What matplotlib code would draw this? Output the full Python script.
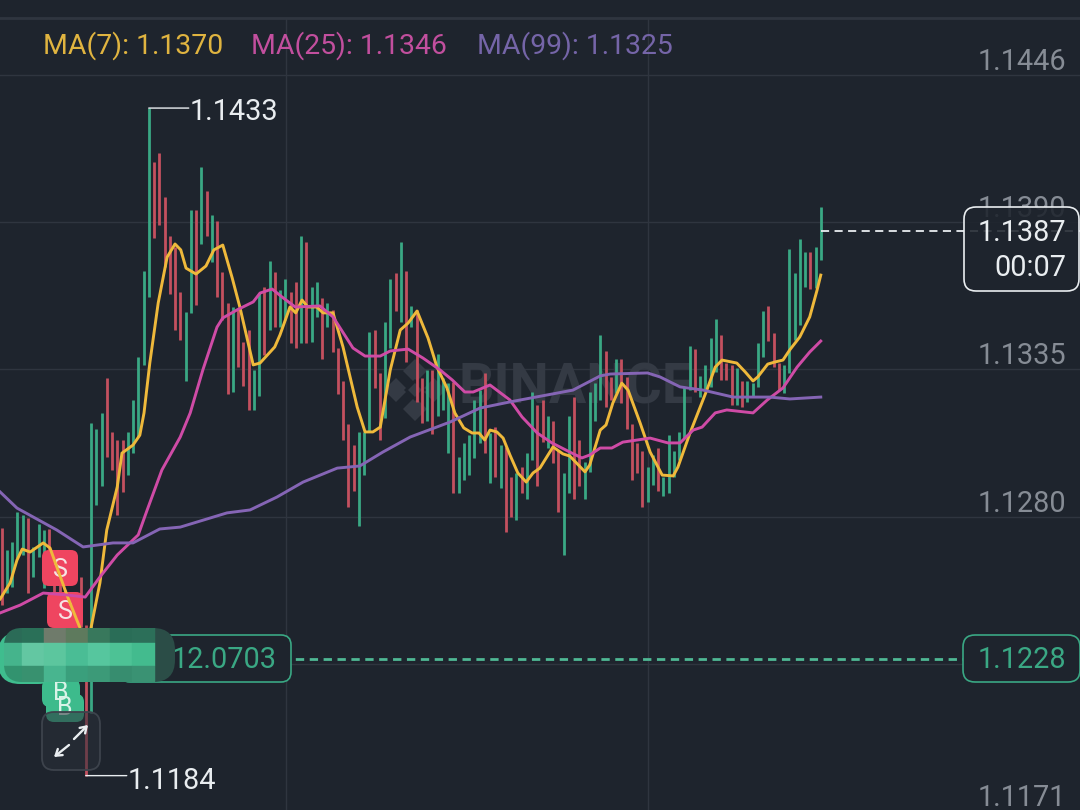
import matplotlib
matplotlib.use('Agg')
from matplotlib import pyplot as plt
from matplotlib.patches import FancyBboxPatch, Polygon, Rectangle
from matplotlib.transforms import Affine2D, blended_transform_factory

plt.rcParams['font.family'] = ['Roboto', 'DejaVu Sans']

# candle extents, left to right, 157 candles
highs = [
    1.12759, 1.12677, 1.12706, 1.12818, 1.12807, 1.12796, 1.12688, 1.12774, 1.12751, 1.12755,
    1.12677, 1.12621, 1.12527, 1.12509, 1.12490, 1.12576, 1.12397, 1.13150, 1.13128, 1.13188,
    1.13318, 1.13117, 1.13087, 1.13087, 1.13117, 1.13236, 1.13396, 1.13717, 1.14325, 1.14124,
    1.14157, 1.13993, 1.13848, 1.13807, 1.13639, 1.13564, 1.13945, 1.13945, 1.14105, 1.14016,
    1.13926, 1.13904, 1.13714, 1.13598, 1.13583, 1.13579, 1.13452, 1.13497, 1.13348, 1.13635,
    1.13658, 1.13755, 1.13714, 1.13646, 1.13687, 1.13639, 1.13676, 1.13848, 1.13825, 1.13658,
    1.13676, 1.13617, 1.13598, 1.13572, 1.13430, 1.13307, 1.13147, 1.13068, 1.13117, 1.13117,
    1.13490, 1.13497, 1.13337, 1.13527, 1.13687, 1.13710, 1.13825, 1.13717, 1.13587, 1.13572,
    1.13318, 1.13348, 1.13348, 1.13408, 1.13318, 1.13299, 1.13303, 1.13023, 1.13076, 1.13105,
    1.13236, 1.13273, 1.13337, 1.13113, 1.13135, 1.13068, 1.13061, 1.12949, 1.12964, 1.12986,
    1.13038, 1.13266, 1.13217, 1.13236, 1.13176, 1.13158, 1.13050, 1.12964, 1.13176, 1.13247,
    1.13087, 1.13005, 1.13266, 1.13299, 1.13479, 1.13419, 1.13322, 1.13389, 1.13389, 1.13322,
    1.13147, 1.13076, 1.13046, 1.12986, 1.13031, 1.13057, 1.12949, 1.13105, 1.13046, 1.13117,
    1.13285, 1.13437, 1.13426, 1.13326, 1.13367, 1.13467, 1.13538, 1.13479, 1.13374, 1.13367,
    1.13355, 1.13307, 1.13307, 1.13299, 1.13449, 1.13568, 1.13587, 1.13486, 1.13374, 1.13367,
    1.13799, 1.13710, 1.13837, 1.13788, 1.13788, 1.13807, 1.13956,
]
lows = [
    1.12471, 1.12516, 1.12539, 1.12647, 1.12658, 1.12516, 1.12576, 1.12650, 1.12535, 1.12554,
    1.12471, 1.12434, 1.12397, 1.12341, 1.12266, 1.12389, 1.11835, 1.12069, 1.12844, 1.12915,
    1.13023, 1.12975, 1.12807, 1.12893, 1.12956, 1.13038, 1.13098, 1.13367, 1.13620, 1.13840,
    1.13889, 1.13732, 1.13631, 1.13497, 1.13460, 1.13307, 1.13561, 1.13590, 1.13818, 1.13848,
    1.13751, 1.13620, 1.13534, 1.13258, 1.13266, 1.13359, 1.13288, 1.13199, 1.13199, 1.13251,
    1.13404, 1.13497, 1.13508, 1.13508, 1.13534, 1.13449, 1.13430, 1.13449, 1.13449, 1.13452,
    1.13546, 1.13389, 1.13508, 1.13415, 1.13258, 1.13087, 1.12837, 1.12897, 1.12766, 1.12956,
    1.13117, 1.13281, 1.13087, 1.13169, 1.13430, 1.13568, 1.13527, 1.13378, 1.13508, 1.13229,
    1.13150, 1.13158, 1.13109, 1.13176, 1.13199, 1.13038, 1.12889, 1.12889, 1.12938, 1.12956,
    1.13020, 1.13076, 1.13038, 1.12926, 1.12949, 1.12908, 1.12744, 1.12800, 1.12788, 1.12889,
    1.12867, 1.13012, 1.12915, 1.13079, 1.13057, 1.13001, 1.12818, 1.12658, 1.12889, 1.12867,
    1.12915, 1.12867, 1.12968, 1.13158, 1.13236, 1.13210, 1.13236, 1.13262, 1.13225, 1.13128,
    1.12938, 1.12964, 1.12837, 1.12856, 1.12919, 1.12897, 1.12878, 1.12889, 1.12949, 1.13012,
    1.13094, 1.13273, 1.13266, 1.13247, 1.13273, 1.13285, 1.13340, 1.13311, 1.13311, 1.13217,
    1.13217, 1.13210, 1.13229, 1.13247, 1.13285, 1.13396, 1.13456, 1.13359, 1.13273, 1.13262,
    1.13337, 1.13460, 1.13516, 1.13658, 1.13650, 1.13654, 1.13758,
]
directions = (
    'RGGGGRGGGR' 'RRRRRRRGGG' 'RRRRGGGGGR' 'RRRRRGGRGR' 'GRRRGRRRGG'
    'RGRGGRRGRG' 'GRGRRRRRGG' 'GRRGGRGRGR' 'RGRGGGRGGG' 'GGRGRGRRGR'
    'GGRRGRRGGR' 'RGGGGRRGRR' 'RRRGGRGGGG' 'GGRGGGGRRR' 'GRGGGGRRRG'
    'GGGGRGG'
)

# moving averages at these candle positions
ma7_idx = [
    -0.3, 1.6, 2.9, 3.9, 5.4, 7.9, 9.2, 10.5, 12.4, 14.9, 16.0, 17.0, 18.7, 20.0, 22.0, 22.9,
    25.0, 26.3, 27.1, 28.2, 29.8, 31.5, 33.0, 34.1, 35.1, 37.0, 38.9, 40.4, 42.1, 43.9, 45.4,
    47.9, 49.2, 52.0, 53.0, 54.9, 56.0, 57.2, 58.3, 60.0, 61.2, 63.1, 65.0, 67.7, 69.2, 70.7,
    72.1, 74.0, 75.9, 77.4, 79.1, 81.2, 82.9, 84.8, 86.3, 88.0, 89.6, 90.9, 92.0, 93.0, 94.3,
    95.5, 96.8, 98.3, 99.9, 101.2, 102.5, 105.0, 106.9, 108.2, 111.1, 112.0, 114.0, 115.1,
    116.4, 118.1, 119.3, 121.6, 123.5, 125.8, 127.9, 128.8, 131.1, 134.3, 135.9, 137.2, 140.0,
    141.6, 143.1, 144.0, 145.9, 147.3, 148.8, 150.1, 152.0, 153.9, 155.3, 156.0,
]
ma7 = [
    1.12494, 1.12554, 1.12639, 1.12680, 1.12669, 1.12703, 1.12684, 1.12613, 1.12509, 1.12386,
    1.12266, 1.12386, 1.12554, 1.12751, 1.12912, 1.13038, 1.13068, 1.13105, 1.13188, 1.13374,
    1.13598, 1.13769, 1.13818, 1.13796, 1.13728, 1.13706, 1.13736, 1.13796, 1.13814, 1.13691,
    1.13579, 1.13367, 1.13374, 1.13434, 1.13479, 1.13583, 1.13561, 1.13609, 1.13583, 1.13583,
    1.13561, 1.13561, 1.13434, 1.13210, 1.13117, 1.13117, 1.13135, 1.13348, 1.13497, 1.13523,
    1.13568, 1.13467, 1.13359, 1.13281, 1.13188, 1.13132, 1.13113, 1.13113, 1.13087, 1.13124,
    1.13117, 1.13094, 1.13031, 1.12964, 1.12930, 1.12964, 1.12982, 1.13061, 1.13035, 1.13027,
    1.12968, 1.12994, 1.13124, 1.13143, 1.13225, 1.13299, 1.13273, 1.13150, 1.13042, 1.12956,
    1.12953, 1.12986, 1.13113, 1.13273, 1.13359, 1.13385, 1.13374, 1.13341, 1.13307, 1.13322,
    1.13370, 1.13378, 1.13385, 1.13423, 1.13471, 1.13546, 1.13646, 1.13702,
]
ma25_idx = [
    -0.3, 3.5, 7.9, 12.4, 15.9, 18.7, 22.0, 24.4, 26.0, 27.7, 30.5, 34.0, 35.9, 38.3, 41.0,
    42.1, 44.8, 47.9, 49.2, 51.5, 53.6, 55.9, 60.6, 63.1, 66.9, 69.2, 72.1, 74.0, 77.4, 80.2,
    83.5, 85.8, 88.2, 89.8, 93.0, 96.8, 99.1, 102.0, 104.8, 108.2, 110.5, 112.0, 114.0, 116.2,
    118.3, 123.5, 126.9, 129.2, 131.7, 133.4, 135.9, 138.1, 143.1, 145.8, 148.8, 151.5, 153.9,
    156.0,
]
ma25 = [
    1.12442, 1.12471, 1.12516, 1.12509, 1.12501, 1.12576, 1.12658, 1.12703, 1.12733, 1.12826,
    1.12975, 1.13098, 1.13188, 1.13348, 1.13508, 1.13542, 1.13572, 1.13602, 1.13635, 1.13650,
    1.13617, 1.13583, 1.13587, 1.13546, 1.13430, 1.13400, 1.13400, 1.13419, 1.13426, 1.13393,
    1.13348, 1.13311, 1.13266, 1.13266, 1.13292, 1.13236, 1.13173, 1.13113, 1.13076, 1.13042,
    1.13020, 1.13031, 1.13057, 1.13057, 1.13079, 1.13094, 1.13076, 1.13076, 1.13124, 1.13135,
    1.13188, 1.13199, 1.13188, 1.13236, 1.13281, 1.13359, 1.13415, 1.13456,
]
ma99_idx = [
    -0.3, 2.9, 10.5, 15.5, 21.2, 25.0, 30.1, 34.0, 42.9, 47.3, 52.4, 57.4, 63.9, 68.2, 72.6,
    77.8, 85.4, 91.1, 96.8, 103.9, 108.8, 114.0, 115.9, 123.0, 125.4, 129.2, 133.6, 139.3,
    146.3, 150.1, 156.0,
]
ma99 = [
    1.12893, 1.12833, 1.12751, 1.12688, 1.12703, 1.12703, 1.12755, 1.12762, 1.12815, 1.12826,
    1.12874, 1.12930, 1.12982, 1.12990, 1.13042, 1.13098, 1.13154, 1.13206, 1.13229, 1.13255,
    1.13273, 1.13326, 1.13333, 1.13337, 1.13322, 1.13285, 1.13273, 1.13247, 1.13247, 1.13240,
    1.13247,
]

# price axis
grid_prices = [1.14448, 1.13900, 1.13350, 1.12800, 1.12251]
grid_time_idx = [54.14, 123.1]
axis_prices = [1.14448, 1.13900, 1.13350, 1.12800, 1.11702]
axis_labels = ['1.1446', '1.1390', '1.1335', '1.1280', '1.1171']

last_price = 1.13866
last_label = '1.1387'
countdown = '00:07'
entry_price = 1.12270
entry_label = '1.1228'
pnl_label = '12.0703'
high_label = '1.1433'
low_label = '1.1184'
ma_labels = ['MA(7): 1.1370', 'MA(25): 1.1346', 'MA(99): 1.1325']

BG = '#1e242d'
GRID = '#2f353f'
UP = '#3aa884'
DOWN = '#c4505f'
AXIS_TEXT = '#868c95'
WHITE = '#e9edf0'
GREEN_TEXT = '#3aa884'
MA_COLORS = ['#efb93b', '#cf4ba6', '#8565b5']
MA_TEXT = ['#e0b440', '#c24f9e', '#7565a8']
FONT = 20.8

fig = plt.figure(figsize=(10.8, 8.1), dpi=100, facecolor=BG)
ax = fig.add_axes([0, 0, 1, 1])
ax.set_facecolor(BG)
ax.set_axis_off()
ax.set_xlim(-0.3333, 205.38)
ax.set_ylim(1.117068, 1.147281)

# screen pixels, y going down, for the app's overlay furniture
px = Affine2D().scale(1, -1).translate(0, 810)


def rounded(x0, y0, x1, y1, r, face, edge='none', lw=1.0, alpha=None, z=5):
    box = FancyBboxPatch((x0 + r, y0 + r), x1 - x0 - 2 * r, y1 - y0 - 2 * r,
                         boxstyle=f'round,pad={r},rounding_size={r}',
                         facecolor=face, edgecolor=edge, linewidth=lw, alpha=alpha,
                         transform=px, zorder=z, clip_on=False)
    ax.add_patch(box)
    return box


# grid
for price in grid_prices:
    ax.axhline(price, color=GRID, lw=1.0, zorder=1)
for idx in grid_time_idx:
    ax.plot([idx, idx], [1.117068, 1.14661], color=GRID, lw=1.0, zorder=1)
ax.plot([0, 1080], [18, 18], color=GRID, lw=2.0, transform=px, zorder=1)

# watermark
LOGO = '#343a44'
cx, cy = 415, 390
for dx, dy in [(0, -19), (19, 0), (0, 19), (-19, 0)]:
    s = 12
    ax.add_patch(Polygon([(cx + dx, cy + dy - s), (cx + dx + s, cy + dy),
                          (cx + dx, cy + dy + s), (cx + dx - s, cy + dy)],
                         facecolor=LOGO, transform=px, zorder=1.2))
for dx, dy in [(0, -6), (6, 0), (0, 6), (-6, 0)]:
    s = 5
    ax.add_patch(Polygon([(cx + dx, cy + dy - s), (cx + dx + s, cy + dy),
                          (cx + dx, cy + dy + s), (cx + dx - s, cy + dy)],
                         facecolor=BG, transform=px, zorder=1.3))
ax.add_patch(Polygon([(cx, cy - 7), (cx + 7, cy), (cx, cy + 7), (cx - 7, cy)],
                     facecolor=LOGO, transform=px, zorder=1.4))
ax.text(459, 389, 'BINANCE', color=LOGO, fontsize=40, fontweight='bold', ha='left',
        va='center', transform=px, zorder=1.2)

# candles
for i in range(len(highs)):
    color = UP if directions[i] == 'G' else DOWN
    ax.plot([i, i], [lows[i], highs[i]], color=color, lw=2.0, solid_capstyle='butt', zorder=2)

# S / B order flags
for x, y in [(60, 568), (65, 610)]:
    rounded(x - 18, y - 18, x + 18, y + 18, 7, '#ef4560', z=3)
    ax.text(x, y + 2, 'S', color='#f6e4e4', fontsize=18, ha='center', va='center',
            transform=px, zorder=3.1)

# moving averages
ax.plot(ma7_idx, ma7, color=MA_COLORS[0], lw=2.1, zorder=4)
ax.plot(ma25_idx, ma25, color=MA_COLORS[1], lw=2.1, zorder=4)
ax.plot(ma99_idx, ma99, color=MA_COLORS[2], lw=2.1, zorder=4)

for x, y in [(61, 693), (65, 708)]:
    rounded(x - 19, y - 14, x + 19, y + 14, 8, '#3dbb8c', z=4.5)
    ax.text(x, y, 'B', color='#d9f3e8', fontsize=18, ha='center', va='center',
            transform=px, zorder=4.6)

# price lines
xend = ax.get_xlim()[1]
ax.plot([156, xend], [last_price, last_price], color=WHITE, lw=1.3, dashes=(4.5, 3),
        zorder=4.7)
ax.plot([40, xend], [entry_price, entry_price], color='#4fb894', lw=2.0, dashes=(3.0, 2.0),
        zorder=4.7)

# price axis labels
ytrans = blended_transform_factory(ax.transAxes, ax.transData)
for price, label in zip(axis_prices, axis_labels):
    ax.annotate(label, (1, price), xycoords=ytrans, xytext=(-14, 13),
                textcoords='offset pixels', color=AXIS_TEXT, fontsize=FONT, ha='right',
                va='center', annotation_clip=False, zorder=4.8)

# current price box
rounded(964, 207, 1079, 291, 12, BG, alpha=0.88, z=5)
rounded(964, 207, 1079, 291, 12, 'none', edge=WHITE, lw=1.2, z=5.1)
ax.text(1066, 233, last_label, color=WHITE, fontsize=FONT, ha='right', va='center',
        transform=px, zorder=6)
ax.text(1066, 268, countdown, color=WHITE, fontsize=FONT, ha='right', va='center',
        transform=px, zorder=6)

# entry boxes
rounded(963, 635, 1080, 682, 12, BG, edge=GREEN_TEXT, lw=1.2, z=5)
ax.text(1066, 660, entry_label, color=GREEN_TEXT, fontsize=FONT, ha='right', va='center',
        transform=px, zorder=6)
rounded(120, 635, 291, 682, 10, BG, edge=GREEN_TEXT, lw=1.2, z=5)
ax.text(277, 660, pnl_label, color=GREEN_TEXT, fontsize=FONT, ha='right', va='center',
        transform=px, zorder=6)

# pixelated block over the position size
rounded(-2, 632, 60, 684, 22, '#3fbd8e', z=6)
rounded(120, 628, 175, 682, 22, '#2b4d47', z=6)
mosaic_xs = [0, 22, 44, 66, 88, 110, 132, 155]
mosaic_ys = [628, 643, 666, 682]
mosaic_colors = [
    ['#2b6b57', '#2a7058', '#6f7b6b', '#5e7a5d', '#38785c', '#2a6d57', '#2c6f59'],
    ['#45b48c', '#63c7a2', '#5cc69e', '#4abd95', '#56c69e', '#4dc295', '#43bb8e'],
    ['#32936f', '#38916f', '#48b58f', '#3a9f7c', '#3c9a78', '#378d6f', '#3a9273'],
]
clip = FancyBboxPatch((4 + 18, 628 + 18), 200, 54 - 36, boxstyle='round,pad=18,rounding_size=18',
                      transform=px, facecolor='none', edgecolor='none')
ax.add_patch(clip)
for r, row in enumerate(mosaic_colors):
    for c, color in enumerate(row):
        cell = Rectangle((mosaic_xs[c], mosaic_ys[r]), mosaic_xs[c + 1] - mosaic_xs[c],
                         mosaic_ys[r + 1] - mosaic_ys[r], facecolor=color, edgecolor=color,
                         linewidth=0.3, transform=px, zorder=6.2)
        ax.add_patch(cell)
        cell.set_clip_path(clip)

# high / low leaders
for idx, price, label, off in [(28, max(highs), high_label, (41, -4)),
                               (16, min(lows), low_label, (42, -5))]:
    ax.annotate('', xy=(idx, price), xytext=(off[0] - 1, 0), textcoords='offset pixels', zorder=7,
                arrowprops=dict(arrowstyle='-', color=WHITE, lw=1.0, shrinkA=0, shrinkB=0))
    ax.annotate(label, (idx, price), xytext=off, textcoords='offset pixels', color=WHITE,
                fontsize=FONT, ha='left', va='center', zorder=7)

# fullscreen button
rounded(42, 712, 100, 770, 12, '#2a3039', alpha=0.55, z=7)
rounded(42, 712, 100, 770, 12, 'none', edge='#3d434c', lw=1.3, z=7.1)
for a, b in [((69, 745), (54, 757)), ((74, 739), (88, 725))]:
    ax.annotate('', xy=b, xytext=a, xycoords=px, textcoords=px, zorder=7.2,
                arrowprops=dict(arrowstyle='->,head_length=0.42,head_width=0.28', color=WHITE,
                                lw=1.7, shrinkA=0, shrinkB=0))

# legend row
for x, label, color in zip([43, 251, 477], ma_labels, MA_TEXT):
    ax.text(x, 46, label, color=color, fontsize=20.4, ha='left', va='center',
            transform=px, zorder=7)

fig.savefig('out.png', dpi=100, facecolor=BG)
